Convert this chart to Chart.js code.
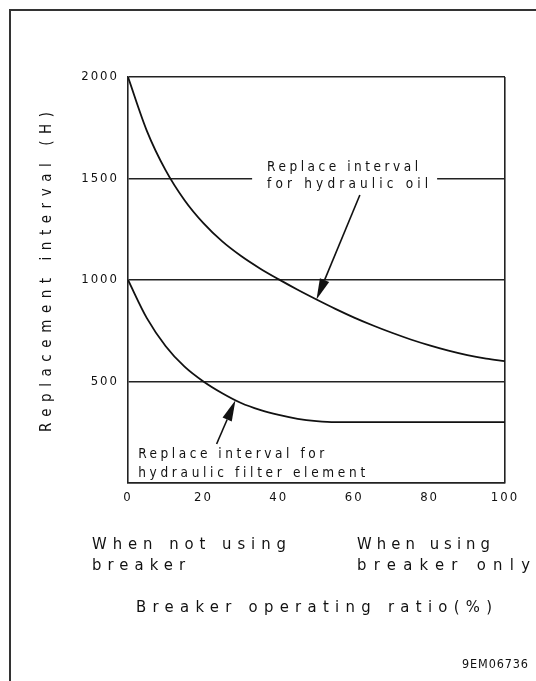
<!DOCTYPE html>
<html>
<head>
<meta charset="utf-8">
<script src="https://cdn.jsdelivr.net/npm/chart.js@4/dist/chart.umd.min.js"></script>
<style>
  html, body { margin: 0; padding: 0; background: #fff; }
  #wrap { width: 536px; height: 681px; }
</style>
</head>
<body>
<div id="wrap"><canvas id="intervalChart" width="536" height="681"></canvas></div>
<script>
// breaker operating ratio (%) and replacement intervals (H)
const ratioPct = [0, 5, 10, 15, 20, 25, 30, 35, 40, 45, 50, 55, 60, 65, 70, 75, 80, 85, 90, 95, 100];
const oilHours = [2000, 1735, 1540, 1393, 1280, 1190, 1118, 1057, 1003, 952, 904, 858, 815, 776, 740, 707, 678, 652, 630, 613, 600];
const filterHours = [1000, 812, 674, 573, 500, 442, 394, 360, 335, 316, 305, 300, 300, 300, 300, 300, 300, 300, 300, 300, 300];
const xTicks = [0, 20, 40, 60, 80, 100];
const yTicks = [500, 1000, 1500, 2000];

const INK = '#111';
const FONT = "'DejaVu Sans Condensed', 'DejaVu Sans', sans-serif";

// draw text spread out so it spans the given width
function spaced(c, text, x, y, width, size) {
  c.font = size + 'px ' + FONT;
  c.letterSpacing = '0px';
  const w = c.measureText(text).width;
  const gap = text.length > 1 ? (width - w) / (text.length - 1) : 0;
  c.letterSpacing = gap + 'px';
  c.textAlign = 'left';
  c.textBaseline = 'middle';
  c.fillText(text, x, y);
  c.letterSpacing = '0px';
}

function arrow(c, x0, y0, x1, y1) {
  const ang = Math.atan2(y1 - y0, x1 - x0);
  const len = 21, half = 5;
  const bx = x1 - Math.cos(ang) * len, by = y1 - Math.sin(ang) * len;
  c.beginPath();
  c.moveTo(x0, y0);
  c.lineTo(bx, by);
  c.lineWidth = 1.6;
  c.strokeStyle = INK;
  c.stroke();
  c.beginPath();
  c.moveTo(x1, y1);
  c.lineTo(bx + Math.sin(ang) * half, by - Math.cos(ang) * half);
  c.lineTo(bx - Math.sin(ang) * half, by + Math.cos(ang) * half);
  c.closePath();
  c.fillStyle = INK;
  c.fill();
}

const notes = {
  id: 'notes',
  beforeDraw(chart) {
    const c = chart.ctx;
    c.save();
    c.fillStyle = '#fff';
    c.fillRect(0, 0, chart.width, chart.height);
    // sheet frame, runs off the right and bottom
    c.strokeStyle = '#333';
    c.lineWidth = 2;
    c.beginPath();
    c.moveTo(10, chart.height + 5);
    c.lineTo(10, 10);
    c.lineTo(chart.width + 5, 10);
    c.stroke();
    c.restore();
    c.letterSpacing = '2px';
  },
  beforeDatasetsDraw(chart) {
    chart.ctx.letterSpacing = '0px';
  },
  afterDraw(chart) {
    const c = chart.ctx;
    const xs = chart.scales.x, ys = chart.scales.y;
    const px = v => xs.getPixelForValue(v);
    const py = v => ys.getPixelForValue(v);
    c.save();
    c.fillStyle = INK;

    // hydraulic oil label sits on the 1500 line
    const oilX = px(36.9);
    c.fillStyle = '#fff';
    c.fillRect(oilX - 15, py(1600), 185, py(1400) - py(1600));
    c.fillStyle = INK;
    spaced(c, 'Replace interval', oilX, py(1552), 151, 13.5);
    spaced(c, 'for hydraulic oil', oilX, py(1468), 161, 13.5);
    arrow(c, px(61.5), py(1419), px(50), py(oilHours[10]));

    // filter element label
    const fX = px(2.7);
    spaced(c, 'Replace interval for', fX, py(138), 186, 13.5);
    spaced(c, 'hydraulic filter element', fX, py(49), 227, 13.5);
    arrow(c, px(23.5), py(192), px(28.5), py(408));

    // axis titles and notes under the x axis
    spaced(c, 'When not using', 92, 545, 194, 16.5);
    spaced(c, 'breaker', 92, 566, 93, 16.5);
    spaced(c, 'When using', 357, 545, 133, 16.5);
    spaced(c, 'breaker only', 357, 566, 173, 16.5);
    spaced(c, 'Breaker operating ratio(%)', 136, 608, 356, 16.5);
    spaced(c, '9EM06736', 462, 665, 66, 12.5);

    c.save();
    c.translate(47, (chart.chartArea.top + chart.chartArea.bottom) / 2 - 8);
    c.rotate(-Math.PI / 2);
    spaced(c, 'Replacement interval (H)', -160, 0, 320, 15);
    c.restore();

    c.restore();
  }
};

const lineStyle = {
  borderColor: INK,
  borderWidth: 1.8,
  pointRadius: 0,
  fill: false,
  cubicInterpolationMode: 'monotone'
};

new Chart(document.getElementById('intervalChart'), {
  type: 'line',
  data: {
    datasets: [
      Object.assign({ label: 'Hydraulic oil', data: ratioPct.map((r, i) => ({ x: r, y: oilHours[i] })) }, lineStyle),
      Object.assign({ label: 'Hydraulic filter element', data: ratioPct.map((r, i) => ({ x: r, y: filterHours[i] })) }, lineStyle)
    ]
  },
  options: {
    responsive: false,
    animation: false,
    layout: { padding: { top: 77, right: 31, left: 0, bottom: 0 } },
    plugins: { legend: { display: false }, tooltip: { enabled: false } },
    scales: {
      x: {
        type: 'linear',
        min: 0,
        max: 100,
        afterBuildTicks: s => { s.ticks = xTicks.map(v => ({ value: v })); },
        afterFit: s => { s.height = 198; },
        ticks: { color: INK, padding: 7, maxRotation: 0, font: { family: FONT, size: 13 } },
        grid: {
          drawTicks: false,
          lineWidth: 1.6,
          color: ctx => (ctx.tick && ctx.tick.value === 100 ? '#222' : 'rgba(0,0,0,0)')
        },
        border: { display: true, color: '#222', width: 1.6 }
      },
      y: {
        min: 0,
        max: 2000,
        afterBuildTicks: s => { s.ticks = [0].concat(yTicks).map(v => ({ value: v })); },
        afterFit: s => { s.width = 128; },
        ticks: {
          color: INK,
          padding: 9,
          font: { family: FONT, size: 13 },
          callback: v => (v === 0 ? '' : String(v))
        },
        grid: { drawTicks: false, lineWidth: 1.5, color: '#222' },
        border: { display: true, color: '#222', width: 1.6 }
      }
    }
  },
  plugins: [notes]
});
</script>
</body>
</html>
